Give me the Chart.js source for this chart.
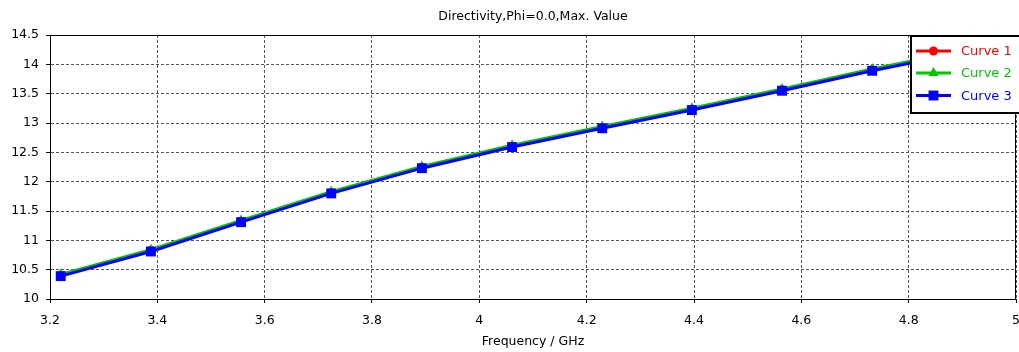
<!DOCTYPE html>
<html>
<head>
<meta charset="utf-8">
<script src="https://cdn.jsdelivr.net/npm/chart.js@4"></script>
<style>
  html, body { margin: 0; background: #fff; overflow: hidden; }
  canvas { display: block; }
</style>
</head>
<body>
<canvas id="chart" width="1023" height="352"></canvas>
<script>
// marker frequencies (GHz) and directivity values
const freqs  = [3.22, 3.388, 3.556, 3.724, 3.893, 4.061, 4.229, 4.396, 4.564, 4.732, 4.9, 5.0];
const curve1 = [10.405, 10.825, 11.325, 11.815, 12.245, 12.605, 12.925, 13.235, 13.565, 13.905, 14.215, 14.395];
const curve2 = [10.42, 10.84, 11.34, 11.83, 12.26, 12.62, 12.94, 13.25, 13.58, 13.92, 14.23, 14.41];
const curve3 = [10.39, 10.81, 11.31, 11.80, 12.23, 12.59, 12.91, 13.22, 13.55, 13.89, 14.20, 14.38];

const seriesNames = ['Curve 1', 'Curve 2', 'Curve 3'];
const xTicks = [3.2, 3.4, 3.6, 3.8, 4, 4.2, 4.4, 4.6, 4.8, 5];
const yTicks = [10, 10.5, 11, 11.5, 12, 12.5, 13, 13.5, 14, 14.5];

const FONT = '"DejaVu Sans", sans-serif';
const toPoints = vals => vals.map((v, i) => ({ x: freqs[i], y: v }));

function series(name, vals, color, style, radius, order) {
  return {
    label: name,
    data: toPoints(vals),
    borderColor: color,
    backgroundColor: color,
    borderWidth: 3,
    pointStyle: style,
    pointRadius: radius,
    pointBorderWidth: 0,
    tension: 0,
    order: order
  };
}

const datasets = [
  series(seriesNames[0], curve1, '#ff0000', 'circle', 4.5, 2),
  series(seriesNames[1], curve2, '#00c800', 'triangle', 6, 1),
  series(seriesNames[2], curve3, '#0000ff', 'rect', 7, 0)
];

// solid frame round the plot area
const frame = {
  id: 'frame',
  beforeDatasetsDraw(chart) {
    const { ctx, chartArea: a } = chart;
    ctx.save();
    ctx.strokeStyle = '#000';
    ctx.lineWidth = 1;
    ctx.strokeRect(a.left + 0.5, a.top + 0.5, a.right - a.left - 1, a.bottom - a.top);
    ctx.restore();
  }
};

// boxed legend sitting over the top right corner
const boxLegend = {
  id: 'boxLegend',
  afterDraw(chart) {
    const ctx = chart.ctx;
    const left = 911, top = 36, right = 1030, bottom = 113;
    ctx.save();
    ctx.fillStyle = '#fff';
    ctx.fillRect(left, top, right - left, bottom - top);
    ctx.strokeStyle = '#000';
    ctx.lineWidth = 2;
    ctx.strokeRect(left, top, right - left, bottom - top);
    const rows = [51, 73, 95.5];
    datasets.forEach((ds, i) => {
      const y = rows[i];
      ctx.strokeStyle = ds.borderColor;
      ctx.lineWidth = 3;
      ctx.beginPath();
      ctx.moveTo(916, y);
      ctx.lineTo(951, y);
      ctx.stroke();
      ctx.fillStyle = ds.borderColor;
      Chart.helpers.drawPoint(ctx, { pointStyle: ds.pointStyle, radius: ds.pointRadius, borderWidth: 0 }, 933.5, y);
      ctx.fillStyle = ds.borderColor;
      ctx.font = '13px ' + FONT;
      ctx.textBaseline = 'middle';
      ctx.textAlign = 'left';
      ctx.fillText(ds.label, 961, y + 1);
    });
    ctx.restore();
  }
};

new Chart(document.getElementById('chart'), {
  type: 'line',
  data: { datasets },
  options: {
    responsive: false,
    animation: false,
    layout: { padding: { left: 0, right: 0, top: 0, bottom: 0 } },
    plugins: {
      legend: { display: false },
      tooltip: { enabled: false },
      title: {
        display: true,
        fullSize: false,
        text: 'Directivity,Phi=0.0,Max. Value',
        color: '#000',
        font: { family: FONT, size: 12.5, weight: 'normal' },
        padding: { top: 9, bottom: 11 }
      }
    },
    scales: {
      x: {
        type: 'linear',
        min: 3.2,
        max: 5,
        afterFit: s => {
          s.height = 53;
          s.paddingLeft = 0;
          s.paddingRight = 0;
        },
        afterBuildTicks: s => { s.ticks = xTicks.map(v => ({ value: v })); },
        ticks: {
          color: '#000',
          padding: 10,
          maxRotation: 0,
          font: { family: FONT, size: 12.5 },
          callback: v => String(+v.toFixed(1))
        },
        grid: { color: '#555', lineWidth: 1, tickLength: 4, tickColor: '#000' },
        border: { display: true, color: '#000', width: 1, dash: [3, 2] },
        title: {
          display: true,
          text: 'Frequency / GHz',
          color: '#000',
          font: { family: FONT, size: 12.5 },
          padding: { top: 0, bottom: 3 }
        }
      },
      y: {
        min: 10,
        max: 14.5,
        afterFit: s => { s.width = 50; s.paddingTop = 0; s.paddingBottom = 0; },
        afterBuildTicks: s => { s.ticks = yTicks.map(v => ({ value: v })); },
        ticks: {
          color: '#000',
          padding: 7,
          font: { family: FONT, size: 12.5 },
          callback: v => String(+v.toFixed(1))
        },
        grid: { color: '#555', lineWidth: 1, tickLength: 4, tickColor: '#000' },
        border: { display: true, color: '#000', width: 1, dash: [3, 2] }
      }
    }
  },
  plugins: [frame, boxLegend]
});
</script>
</body>
</html>
